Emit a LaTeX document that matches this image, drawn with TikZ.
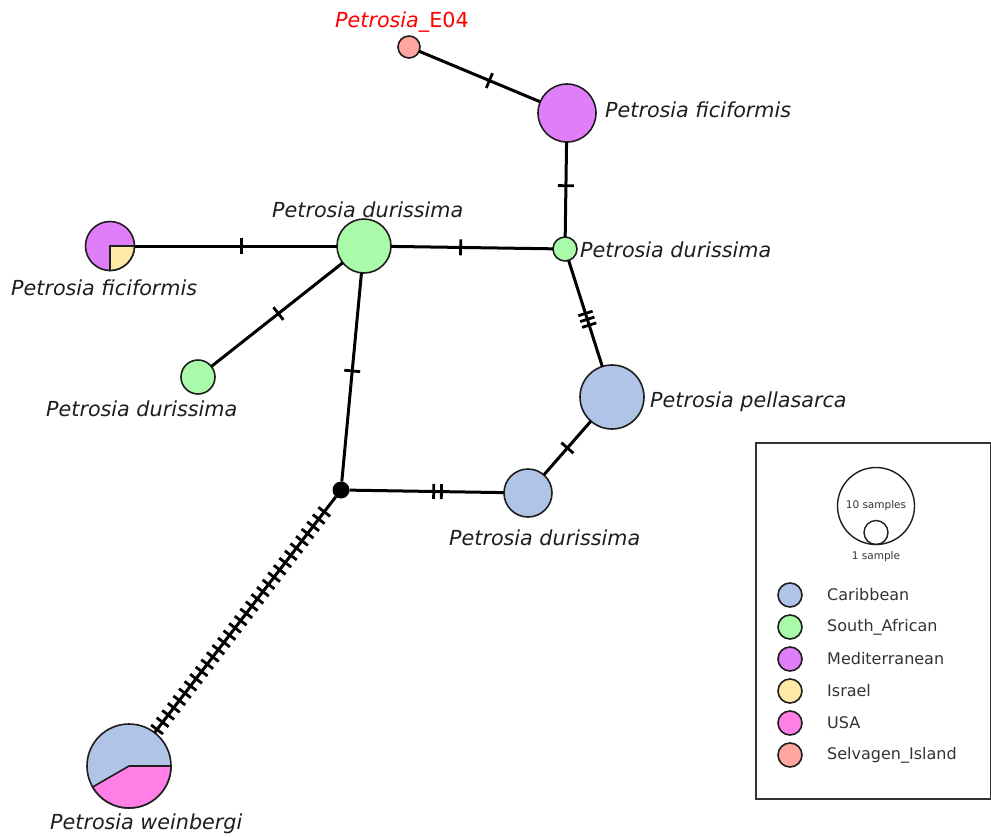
\documentclass[tikz,border=0pt]{standalone}
\usepackage{fontspec}
\setmainfont{DejaVu Sans}
\usepackage{xcolor}
\definecolor{carib}{HTML}{AFC4E7}
\definecolor{safr}{HTML}{A9FBA9}
\definecolor{medit}{HTML}{E07DF9}
\definecolor{israel}{HTML}{FFE9A6}
\definecolor{usa}{HTML}{FF7FE6}
\definecolor{selv}{HTML}{FFA6A0}
\definecolor{hline}{HTML}{1E1E1E}
\definecolor{ltxt}{HTML}{333333}
\usetikzlibrary{decorations.markings,positioning}

\begin{document}
\begin{tikzpicture}[x=1pt,y=-1pt,
  hap/.style={circle,draw=hline,line width=1.6pt,inner sep=0pt,outer sep=0pt,minimum size=#1},
  hap/.default=24pt,
  lab/.style={inner sep=0pt,font=\fontsize{20.7}{24}\selectfont\itshape,text=hline},
  legtxt/.style={inner sep=0pt,font=\fontsize{16}{19}\selectfont,text=ltxt},
  smalltxt/.style={inner sep=0pt,font=\fontsize{10.5}{12}\selectfont,text=ltxt},
  edg/.style={draw=black,line width=3pt},
  hl/.style={draw=black,line width=2.8pt},
  tk/.style={decoration={markings,mark=at position #1 with {\draw[hl] (0pt,-8pt) -- (0pt,8pt);}},postaction=decorate},
  tks/.style n args={3}{decoration={markings,mark=between positions #1 and #2 step #3 with {\draw[hl] (0pt,-7.5pt) -- (0pt,7.5pt);}},postaction=decorate}]
\useasboundingbox (0,0) rectangle (991,836);

% haplotypes
\node[hap=22pt,fill=selv] (e04) at (409,47) {};
\node[hap=58pt,fill=medit] (fic1) at (567,113) {};
\node[hap=24pt,fill=safr] (dur1) at (565,249) {};
\node[hap=54pt,fill=safr] (dur2) at (364,246) {};
\node[hap=49pt,fill=medit] (fic2) at (110,246) {};
\node[hap=34pt,fill=safr] (dur3) at (198,377) {};
\node[hap=64pt,fill=carib] (pel) at (612,397) {};
\node[hap=48pt,fill=carib] (dur4) at (528,493) {};
\node[circle,fill=black,inner sep=0pt,outer sep=0pt,minimum size=17pt] (med) at (341,490) {};
\node[hap=84pt,fill=carib] (wei) at (129,766) {};
\filldraw[fill=israel,draw=hline,line width=1.6pt] (fic2.center) -- (fic2.east) arc[start angle=0,end angle=-90,radius=24.5pt] -- cycle;
\filldraw[fill=usa,draw=hline,line width=1.6pt] (wei.center) -- (wei.east) arc[start angle=0,end angle=-150,radius=42pt] -- cycle;

% mutations
\draw[edg,tk=0.58] (e04) -- (fic1);
\draw[edg,tk=0.46] (fic1) -- (dur1);
\draw[edg,tk=0.43] (dur2) -- (dur1);
\draw[edg,tk=0.53] (fic2) -- (dur2);
\draw[edg,tk=0.51] (dur3) -- (dur2);
\draw[edg,tk=0.47] (dur2) -- (med);
\draw[edg,tks={0.50}{0.62}{0.055}] (dur1) -- (pel);
\draw[edg,tk=0.50] (pel) -- (dur4);
\draw[edg,tks={0.545}{0.60}{0.05}] (med) -- (dur4);
\draw[edg,tks={19pt}{294pt}{9.15pt}] (med) -- (wei);

% labels
\node[lab,anchor=base west,text=red] (le04) at (335,27) {Petrosia\upshape\_E04};
\node[lab,anchor=base west] (lfic1) at (605,117) {Petrosia ficiformis};
\node[lab,anchor=base west] (ldur1) at (580,257) {Petrosia durissima};
\node[lab,anchor=base west] (ldur2) at (272,217) {Petrosia durissima};
\node[lab,anchor=base west] (lfic2) at (11,295) {Petrosia ficiformis};
\node[lab,anchor=base west] (ldur3) at (46,416) {Petrosia durissima};
\node[lab,anchor=base west] (lpel) at (650,407) {Petrosia pellasarca};
\node[lab,anchor=base west] (ldur4) at (449,545) {Petrosia durissima};
\node[lab,anchor=base west] (lwei) at (50,829) {Petrosia weinbergi};

% legend
\node[draw=ltxt,line width=1.6pt,minimum width=235pt,minimum height=356pt,anchor=north west,inner sep=0pt] (legend) at (755,442) {};
\node[circle,draw=hline,line width=1.4pt,inner sep=0pt,minimum size=77pt] (ten) at (876,506) {};
\node[circle,draw=hline,line width=1.4pt,inner sep=0pt,minimum size=24pt] (one) at (876,532.5) {};
\node[smalltxt] (tten) at (876,506) {10 samples};
\node[smalltxt,below=6pt of one] (tone) {1 sample};
\node[hap,fill=carib] (k1) at (790,595) {};
\node[hap,fill=safr] (k2) at (790,627) {};
\node[hap,fill=medit] (k3) at (790,659) {};
\node[hap,fill=israel] (k4) at (790,691) {};
\node[hap,fill=usa] (k5) at (790,723) {};
\node[hap,fill=selv] (k6) at (790,755) {};
\node[legtxt,right=25pt of k1] (t1) {Caribbean};
\node[legtxt,right=25pt of k2] (t2) {South\_African};
\node[legtxt,right=25pt of k3] (t3) {Mediterranean};
\node[legtxt,right=25pt of k4] (t4) {Israel};
\node[legtxt,right=25pt of k5] (t5) {USA};
\node[legtxt,right=25pt of k6] (t6) {Selvagen\_Island};
\end{tikzpicture}
\end{document}
